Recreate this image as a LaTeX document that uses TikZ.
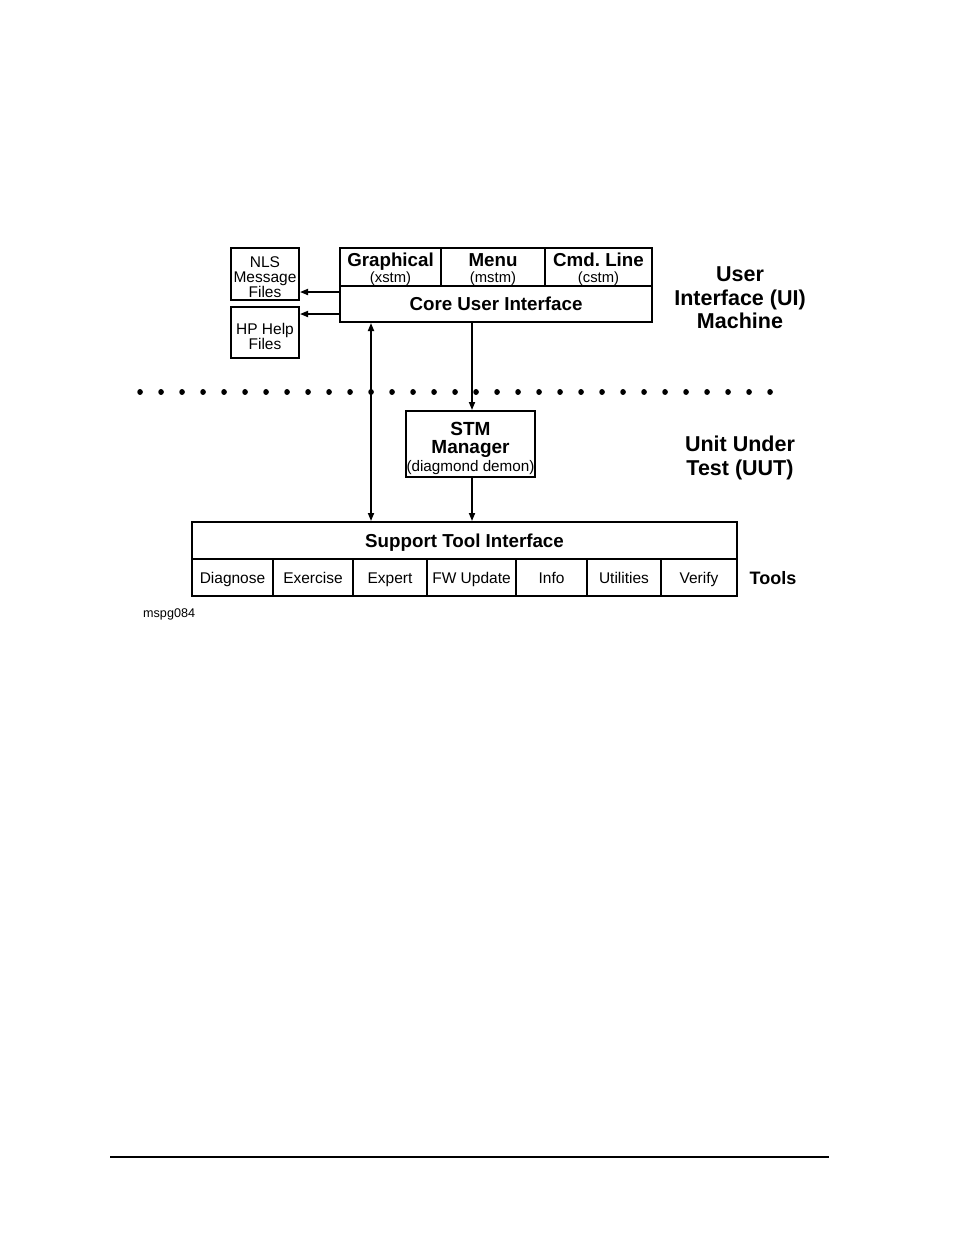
\documentclass[tikz,border=0pt]{standalone}
\usepackage{fontspec}
\setmainfont{Liberation Sans}
\usetikzlibrary{arrows.meta}

\begin{document}
\begin{tikzpicture}[x=1pt, y=-1pt,
  box/.style={draw, line width=2pt, inner sep=0pt, align=center},
  arr/.style={line width=1.7pt, -{Triangle[length=8pt,width=6pt]}},
  dblarr/.style={line width=1.7pt, {Triangle[length=8pt,width=6pt]}-{Triangle[length=8pt,width=6pt]}},
  cell/.style={box, minimum height=38pt, font=\fontsize{14.8}{16}\selectfont},
  tool/.style={box, minimum height=37pt, text height=12pt, text depth=0pt,
    font=\fontsize{15.5}{17}\selectfont},
  big/.style={align=center, font=\bfseries\fontsize{21.5}{23.5}\selectfont}]
  \useasboundingbox (0,0) rectangle (954,1235);

  % User interface machine
  \node[cell, minimum width=101pt] (graph) at (390.5,267)
    {{\fontsize{18.75}{16}\bfseries\selectfont\rule{0pt}{18pt}Graphical}\\(xstm)};
  \node[cell, minimum width=104pt] (menu) at (493,267)
    {{\fontsize{18.75}{16}\bfseries\selectfont\rule{0pt}{18pt}Menu}\\(mstm)};
  \node[cell, minimum width=107pt] (cmd) at (598.5,267)
    {{\fontsize{18.75}{16}\bfseries\selectfont\rule{0pt}{18pt}Cmd.\ Line}\\(cstm)};
  \node[box, minimum width=312pt, minimum height=36pt, text height=13.4pt, text depth=0pt,
    font=\bfseries\fontsize{18.75}{20}\selectfont] (core) at (496,304) {Core User Interface};

  % Files on the left
  \node[box, minimum width=68pt, minimum height=52pt,
    font=\fontsize{15.5}{15}\selectfont] (nls) at (265,274) {\rule{0pt}{17pt}NLS\\Message\\Files};
  \node[box, minimum width=68pt, minimum height=51pt,
    font=\fontsize{15.5}{15}\selectfont] (hp) at (265,332.5) {\rule{0pt}{19pt}HP Help\\Files};

  \coordinate (m1) at ([yshift=12pt]core.west);
  \coordinate (m2) at ([yshift=-10pt]core.west);
  \draw[arr] (m1) -- (m1 -| nls.east);
  \draw[arr] (m2) -- (m2 -| hp.east);

  % Dotted border between the machines
  \draw[line width=5.5pt, line cap=round, dash pattern=on 0.1pt off 20.9pt]
    (140,392) -- (771,392);

  % Unit under test
  \node[box, minimum width=129pt, minimum height=66pt,
    font=\bfseries\fontsize{19}{18}\selectfont] (stm) at (470.5,444)
    {\rule{0pt}{21.5pt}STM\\Manager\\{\mdseries\fontsize{15.25}{18}\selectfont (diagmond demon)}};
  \node[box, minimum width=545pt, minimum height=37pt, text height=14.4pt, text depth=0pt,
    font=\bfseries\fontsize{18.75}{20}\selectfont] (sti) at (464.5,540.5) {Support Tool Interface};

  % Tools
  \node[tool, minimum width=81pt] (diag) at (232.5,577.5) {Diagnose};
  \node[tool, minimum width=80pt] (exer) at (313,577.5) {Exercise};
  \node[tool, minimum width=74pt] (expert) at (390,577.5) {Expert};
  \node[tool, minimum width=89pt] (fw) at (471.5,577.5) {FW Update};
  \node[tool, minimum width=71pt] (info) at (551.5,577.5) {Info};
  \node[tool, minimum width=74pt] (util) at (624,577.5) {Utilities};
  \node[tool, minimum width=76pt] (verify) at (699,577.5) {Verify};

  % Connections
  \coordinate (d1) at ([xshift=32pt]core.south west);
  \draw[dblarr] (d1) -- (d1 |- sti.north);
  \coordinate (s1) at ([xshift=1.5pt]stm.north);
  \coordinate (s2) at ([xshift=1.5pt]stm.south);
  \draw[arr] (s1 |- core.south) -- (s1);
  \draw[arr] (s2) -- (s2 |- sti.north);

  % Labels
  \node[big] (uilabel) at (740,298) {User\\Interface (UI)\\Machine};
  \node[big] (uutlabel) at (740,458) {Unit Under\\Test (UUT)};
  \node[font=\bfseries\fontsize{18}{20}\selectfont] (tools) at (773,578) {Tools};
  \node[anchor=west, inner sep=0pt, font=\fontsize{12.6}{14}\selectfont] (fig) at (143,614) {mspg084};

  % Page rule
  \draw[line width=1.2pt] (110,1157) -- (829,1157);
\end{tikzpicture}
\end{document}
